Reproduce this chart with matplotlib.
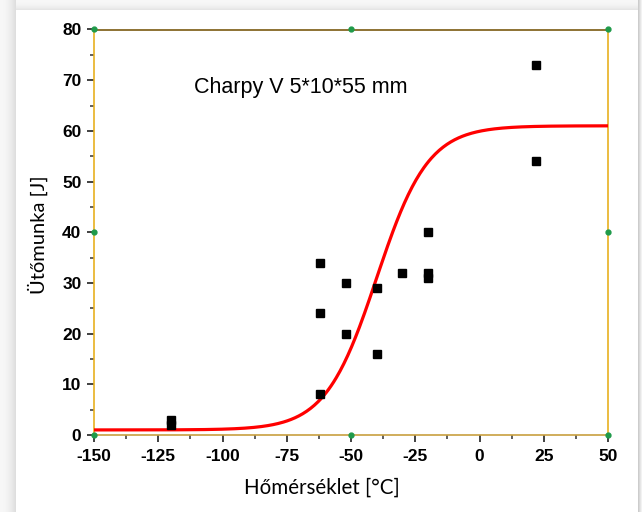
import numpy as np
import matplotlib
matplotlib.use("Agg")
import matplotlib.pyplot as plt
from matplotlib.patches import Rectangle

# Data
temps = [-120, -120, -62, -62, -62, -52, -52, -40, -40, -30, -20, -20, -20, 22, 22]
energy = [3, 2, 34, 24, 8, 30, 20, 29, 16, 32, 40, 32, 31, 73, 54]

# tanh fit parameters (lower shelf, upper shelf, transition T0, width C)
lower_shelf = 1.0
upper_shelf = 61.0
t0 = -40.0
width_c = 20.0

x_ticks = [-150, -125, -100, -75, -50, -25, 0, 25, 50]
y_ticks = [0, 10, 20, 30, 40, 50, 60, 70, 80]

W, H = 642, 512
fig = plt.figure(figsize=(W / 100, H / 100), dpi=100)
fig.patch.set_facecolor("white")

# shadow decoration around the white page
def px_rect(x0, y0, w, h, color):
    fig.patches.append(Rectangle((x0 / W, 1 - (y0 + h) / H), w / W, h / H,
                                 transform=fig.transFigure, facecolor=color,
                                 edgecolor="none", zorder=-10))

for i in range(16):
    g = 0.97 - 0.10 * (i / 15) ** 2
    px_rect(i, 0, 1, H, (g, g, g))
for j in range(10):
    g = 0.97 - 0.07 * (j / 9) ** 2
    px_rect(16, j, W - 16, 1, (g, g, g))
for i in range(4):
    g = 0.80 + 0.05 * i
    px_rect(638 + i, 0, 1, H, (g, g, g))

left, right, bottom, top = 94, 608, 435, 29.5
ax = fig.add_axes([left / W, 1 - bottom / H, (right - left) / W, (bottom - top) / H])
ax.set_xlim(-150, 50)
ax.set_ylim(0, 80)

tt = np.linspace(-150, 50, 400)
mid = (upper_shelf + lower_shelf) / 2
amp = (upper_shelf - lower_shelf) / 2
ax.plot(tt, mid + amp * np.tanh((tt - t0) / width_c), color="#ff0000", lw=2.3, zorder=3)

ax.plot(temps, energy, linestyle="none", marker="s", ms=6, color="black", zorder=4)

# green handles at corners / midpoints
hx = [-150, -150, -150, -50, -50, 50, 50, 50]
hy = [0, 40, 80, 0, 80, 0, 40, 80]
ax.plot(hx, hy, linestyle="none", marker="o", ms=3.5, color="#1f9a4a",
        clip_on=False, zorder=6)

ax.spines["left"].set_color("#e8b020")
ax.spines["right"].set_color("#e8b020")
ax.spines["top"].set_color("#7a5a10")
ax.spines["bottom"].set_color("#c8a040")
for s in ax.spines.values():
    s.set_linewidth(1.2)

ax.set_xticks(x_ticks)
ax.set_yticks(y_ticks)
ax.set_xticks(np.arange(-137.5, 50, 25), minor=True)
ax.set_yticks(np.arange(5, 80, 10), minor=True)
ax.tick_params(which="major", direction="out", length=5, width=1.3, color="#333333")
ax.tick_params(which="minor", direction="out", length=3, width=1.1, color="#333333")
ax.tick_params(top=False, right=False)

tick_font = {"family": "Liberation Sans", "weight": "bold", "size": 12.5}
ax.set_xticklabels([str(v) for v in x_ticks], fontdict=tick_font)
ax.set_yticklabels([str(v) for v in y_ticks], fontdict=tick_font)
ax.tick_params(axis="x", pad=5)
ax.tick_params(axis="y", pad=4)

ax.set_xlabel("Hőmérséklet [°C]", family="Lato", fontsize=14.8)
ax.xaxis.set_label_coords((322 - left) / (right - left), -(488 - bottom) / (bottom - top),
                          transform=ax.transAxes)
ax.xaxis.label.set_va("center")
ax.set_ylabel("Ütőmunka [J]", family="Lato", fontsize=14.5)
ax.yaxis.set_label_coords(-(left - 38) / (right - left), (bottom - 235) / (bottom - top),
                          transform=ax.transAxes)
ax.yaxis.label.set_va("center")

ax.text(-69.5, 68.6, "Charpy V 5*10*55 mm", family="Liberation Sans", fontsize=15.5,
        ha="center", va="center")

fig.savefig("out.png", dpi=100)
